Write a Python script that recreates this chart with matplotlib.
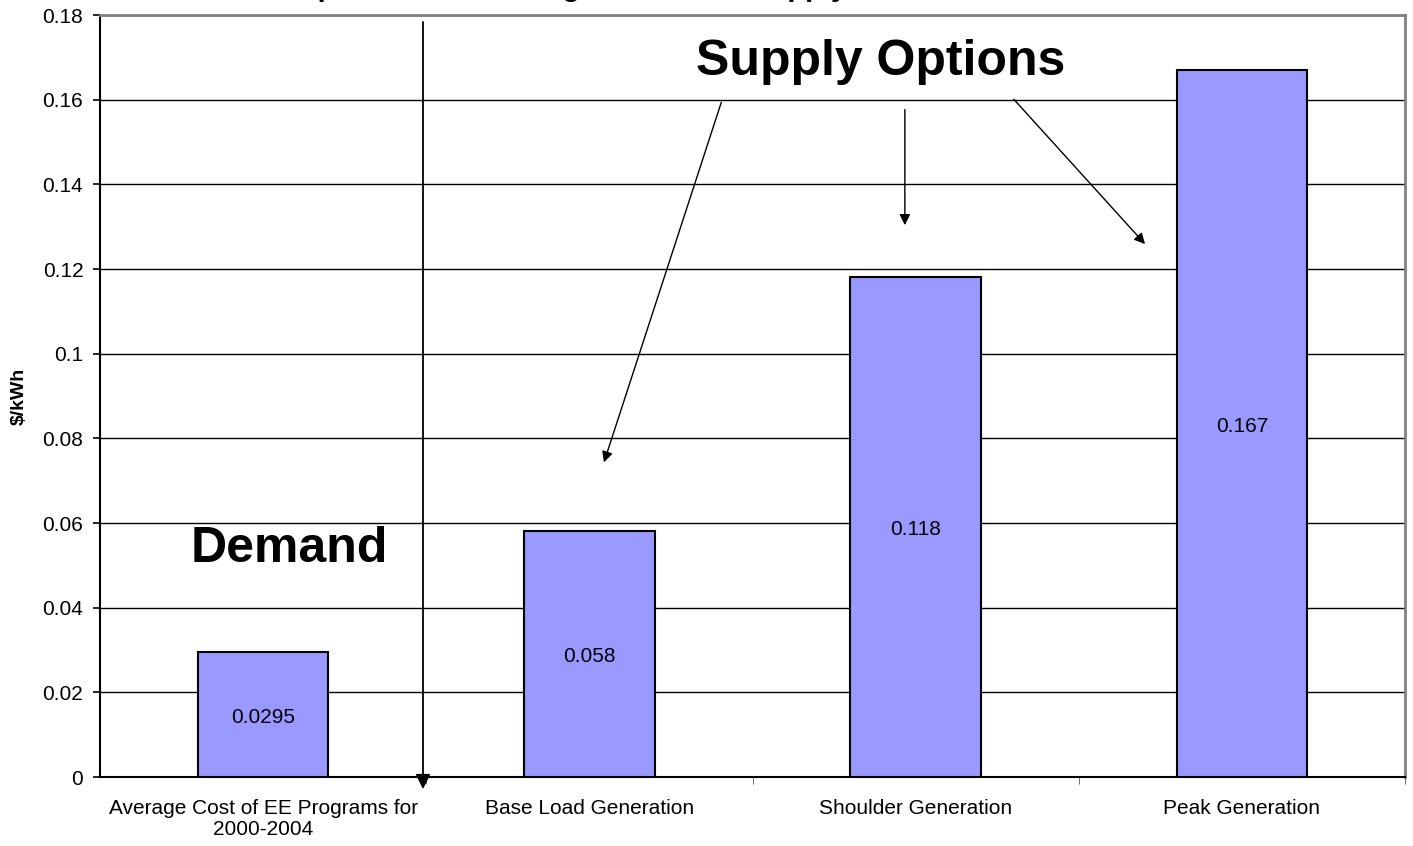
import matplotlib.pyplot as plt
from matplotlib.ticker import FixedLocator

plt.rcParams['font.family'] = ['Liberation Sans', 'DejaVu Sans']

categories = ["Average Cost of EE Programs for\n2000-2004", "Base Load Generation",
              "Shoulder Generation", "Peak Generation"]
costs = [0.0295, 0.058, 0.118, 0.167]
cost_labels = ["0.0295", "0.058", "0.118", "0.167"]
yticks = [0, 0.02, 0.04, 0.06, 0.08, 0.1, 0.12, 0.14, 0.16, 0.18]
ytick_labels = ["0", "0.02", "0.04", "0.06", "0.08", "0.1", "0.12", "0.14", "0.16", "0.18"]
title = "Comparison of EE Program Cost to Supply Cost"

fig = plt.figure(figsize=(14.13, 8.46), dpi=100)
ax = fig.add_axes([100 / 1413, 1 - 777 / 846, 1305 / 1413, 762 / 846])

x = list(range(len(categories)))
ax.bar(x, costs, width=0.4, color='#9999FF', edgecolor='black', linewidth=1.5, zorder=3)
for xi, v, lab in zip(x, costs, cost_labels):
    ax.text(xi, v / 2 - 0.0006, lab, ha='center', va='center', fontsize=15, zorder=4)

ax.set_xlim(-0.5, 3.5)
ax.set_ylim(0, 0.18)
ax.set_yticks(yticks)
ax.set_yticklabels(ytick_labels, fontsize=15)
ax.set_xticks(x)
ax.set_xticklabels(categories, fontsize=15, linespacing=1.15)
ax.tick_params(axis='x', which='major', length=0, pad=16)
ax.xaxis.set_minor_locator(FixedLocator([0.5, 1.5, 2.5, 3.5]))
ax.tick_params(axis='x', which='minor', length=5, color='#555555')
ax.tick_params(axis='y', length=5, width=1.2, pad=7)
ax.yaxis.grid(True, color='black', linewidth=1, zorder=0)

ax.spines['top'].set_color('#808080')
ax.spines['right'].set_color('#808080')
ax.spines['top'].set_linewidth(2)
ax.spines['right'].set_linewidth(2)
ax.spines['left'].set_linewidth(1.5)
ax.spines['bottom'].set_linewidth(1.5)

ax.set_ylabel("$/kWh", fontsize=14, fontweight='bold')
ax.yaxis.set_label_coords(-0.055, 0.5)

# divider between demand and supply
ax.annotate("", xy=(0.49, -0.0035), xytext=(0.49, 0.179),
            arrowprops=dict(arrowstyle='-|>', color='black', lw=1.3, mutation_scale=22),
            annotation_clip=False, zorder=5)

ax.text(0.079, 0.0538, "Demand", fontsize=36, fontweight='bold', ha='center', va='center')
ax.text(1.892, 0.1688, "Supply Options", fontsize=36, fontweight='bold', ha='center', va='center')

arrow_kw = dict(arrowstyle='-|>', color='black', lw=1, mutation_scale=16)
ax.annotate("", xy=(1.042, 0.0737), xytext=(1.407, 0.160), arrowprops=arrow_kw, zorder=5)
ax.annotate("", xy=(1.967, 0.1297), xytext=(1.967, 0.1583), arrowprops=arrow_kw, zorder=5)
ax.annotate("", xy=(2.709, 0.1254), xytext=(2.295, 0.1606), arrowprops=arrow_kw, zorder=5)

# title sits mostly above the visible area, as in the source image
fig.text(253 / 1413, 1 + 3.5 / 846, title, fontsize=21, fontweight='bold',
         ha='left', va='baseline')

fig.savefig("out.png", dpi=100)
